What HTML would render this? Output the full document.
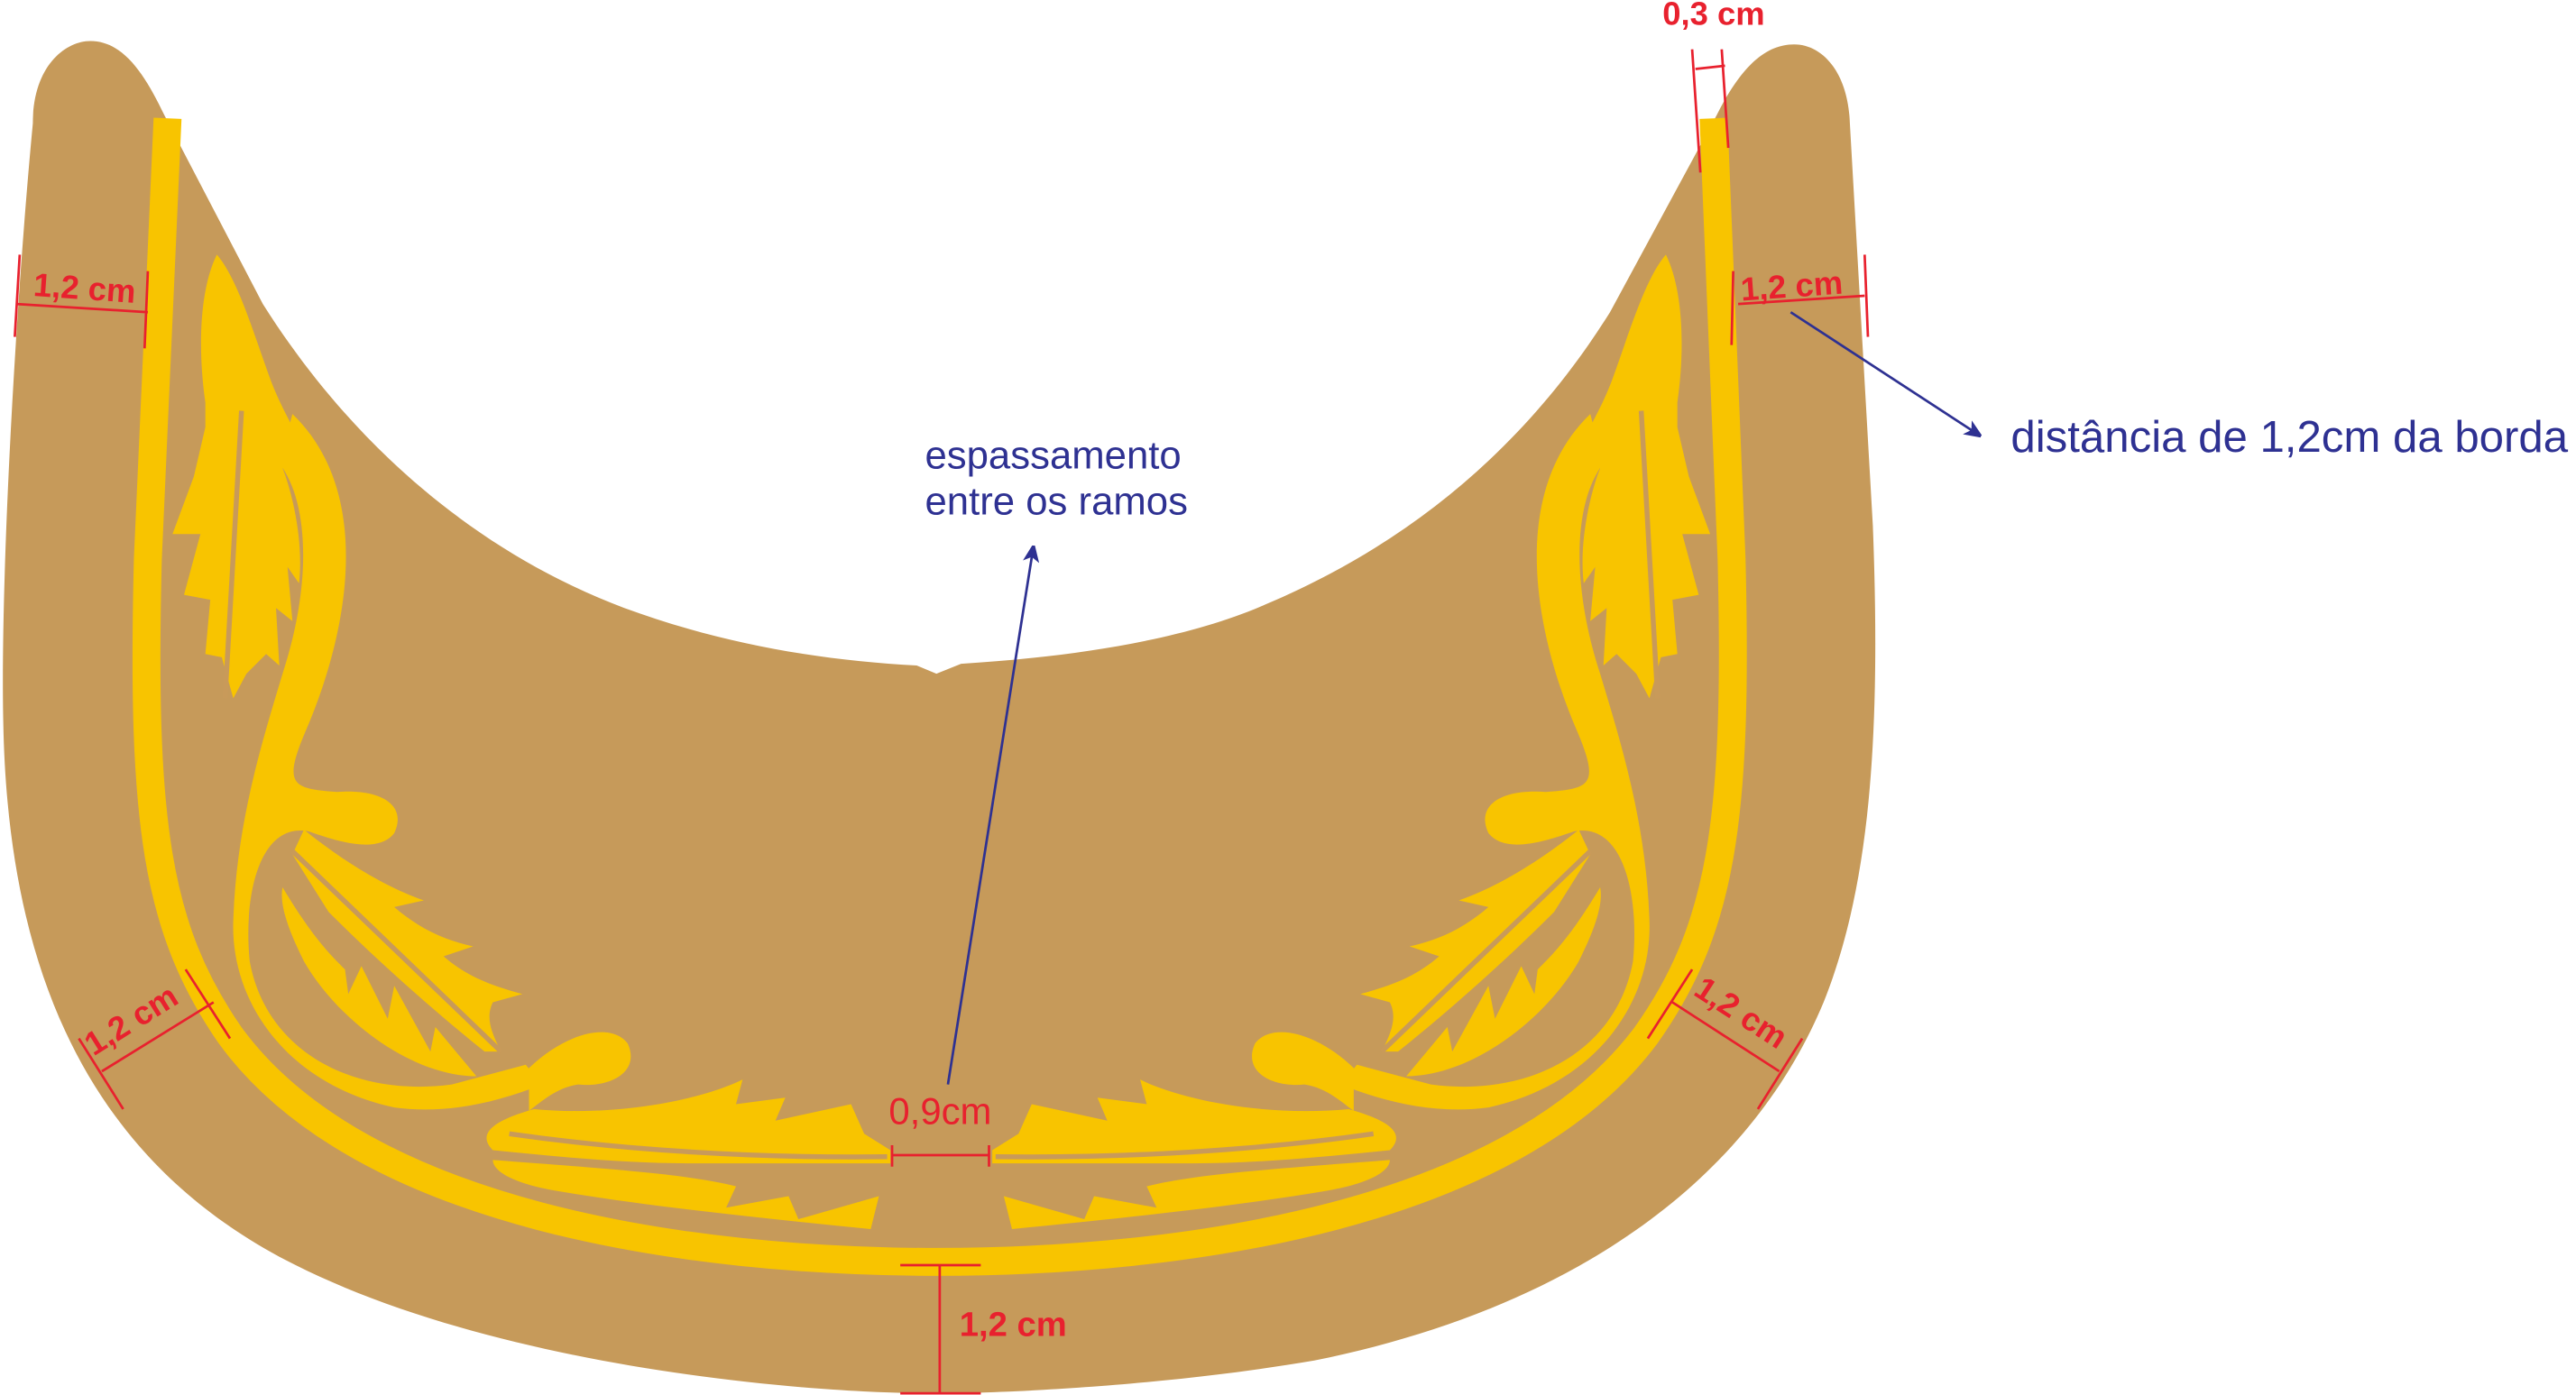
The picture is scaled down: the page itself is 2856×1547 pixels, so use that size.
<!DOCTYPE html>
<html><head><meta charset="utf-8"><style>
html,body{margin:0;padding:0;background:#fff;}
svg{display:block;}
text{font-family:"Liberation Sans",Arial,sans-serif;}
</style></head><body>
<svg width="2856" height="1547" viewBox="0 0 1568 849" preserveAspectRatio="none" xmlns="http://www.w3.org/2000/svg">
<defs>
<marker id="ah" markerWidth="10" markerHeight="10" refX="9" refY="5" orient="auto" markerUnits="userSpaceOnUse"><path d="M0,0 L12,5 L0,10 L3,5 Z" fill="#2e3192"/></marker>
<g id="orn" fill="#f8c400">
  <path d="M178,252 C228,300 212,385 186,445 C172,478 178,480 205,482 C232,480 248,490 240,507 C230,520 205,512 188,506 C158,500 148,545 152,585 C162,640 215,668 275,660 L320,648 L330,660 C300,672 270,678 240,674 C175,660 140,610 142,560 C144,500 160,450 172,410 C190,355 188,305 170,282 Z"/>
  <path d="M322,650 C345,628 372,622 382,635 C390,652 372,662 352,660 C338,662 328,672 322,676 Z"/>
  <path d="M325,675 C380,680 430,668 452,657 L448,672 L478,668 L472,682 L518,672 L526,690 L542,700 L542,708 L420,708 C380,708 340,704 300,700 C290,690 300,682 325,675 Z"/>
  <path d="M300,706 C380,712 420,715 448,722 L442,735 L480,728 L486,742 L535,728 L530,748 C470,742 400,735 340,725 C310,720 300,712 300,706 Z"/>
  <path d="M132,155 C145,170 155,205 165,232 C172,250 178,258 180,265 L172,285 C178,300 185,330 182,355 L175,345 L178,378 L168,370 L170,405 L162,398 L150,410 L142,425 L135,400 L125,398 L128,365 L112,362 L122,325 L105,325 L118,290 L125,260 L125,245 C120,210 122,175 132,155 Z"/>
  <path d="M185,505 C210,525 235,540 258,548 L240,552 C255,565 270,572 288,576 L270,582 C285,595 300,600 318,605 L300,610 C295,620 300,630 305,640 L295,640 C270,620 235,590 200,555 L178,520 Z"/>
  <path d="M172,540 C190,570 200,580 210,590 L212,605 L220,588 L236,620 L240,600 L262,640 L265,625 L290,655 C250,655 205,620 185,585 C175,565 170,550 172,540 Z"/>
</g>
<g id="veins" stroke="#c89a5a" stroke-width="3" fill="none">
  <path d="M147,250 L137,425"/>
  <path d="M178,518 L305,640"/>
  <path d="M310,690 C380,700 460,705 540,704"/>
</g>
</defs>
<path d="M20,75 C20,40 40,25 55,25 C75,25 88,45 100,70 L160,185 C220,280 300,340 380,370 C440,392 500,402 558,405 L570,410 L585,404 C650,400 720,390 770,368 C860,330 930,270 980,190 L1045,70 C1060,40 1075,27 1092,27 C1110,27 1125,45 1126,75 L1140,320 C1145,450 1138,540 1110,610 C1060,730 940,800 800,828 C700,845 600,848 570,848 C480,848 300,830 180,770 C60,710 5,600 2,440 C0,350 10,180 20,75 Z" fill="#c69a5a"/>
<path d="M102,72 L90,340 C86,500 95,565 140,630 C220,740 420,768 570,768 C720,768 920,740 1002,630 C1048,565 1058,500 1054,340 L1043,72" fill="none" stroke="#f8c400" stroke-width="17"/>
<use href="#orn"/><use href="#veins"/>
<g transform="translate(1146,0) scale(-1,1)"><use href="#orn"/><use href="#veins"/></g>
<g stroke="#e8212e" stroke-width="1.5" fill="none">
  <path d="M10,185 L90,190 M12,155 L9,205 M90,165 L88,212"/>
  <path d="M1058,185 L1135,180 M1135,155 L1137,205 M1055,165 L1054,210"/>
  <path d="M1032,42 L1050,40 M1030,30 L1035,105 M1048,30 L1052,90"/>
  <path d="M62,652 L130,610 M48,632 L75,675 M113,590 L140,632"/>
  <path d="M1018,610 L1083,652 M1030,590 L1003,632 M1097,632 L1070,675"/>
  <path d="M572,770 L572,848 M548,770 L597,770 M548,848 L597,848"/>
  <path d="M543,703 L602,703 M543,697 L543,710 M602,697 L602,710"/>
</g>
<g fill="#e8212e" font-weight="bold" font-size="20">
  <text x="20" y="180" transform="rotate(4 20 180)">1,2 cm</text>
  <text x="1060" y="183" transform="rotate(-4 1060 183)">1,2 cm</text>
  <text x="1012" y="15">0,3 cm</text>
  <text x="57" y="643" transform="rotate(-32 57 643)">1,2 cm</text>
  <text x="1030" y="605" transform="rotate(33 1030 605)">1,2 cm</text>
  <text x="584" y="813" font-size="21">1,2 cm</text>
</g>
<text x="541" y="684" fill="#e8212e" font-size="23">0,9cm</text>
<g fill="#2e3192" font-size="24">
  <text x="563" y="285">espassamento</text>
  <text x="563" y="313">entre os ramos</text>
  <text x="1224" y="275" font-size="27">distância de 1,2cm da borda</text>
</g>
<g stroke="#2e3192" stroke-width="1.5">
  <line x1="577" y1="660" x2="629" y2="333" marker-end="url(#ah)"/>
  <line x1="1090" y1="190" x2="1205" y2="265" marker-end="url(#ah)"/>
</g>
</svg>
</body></html>
